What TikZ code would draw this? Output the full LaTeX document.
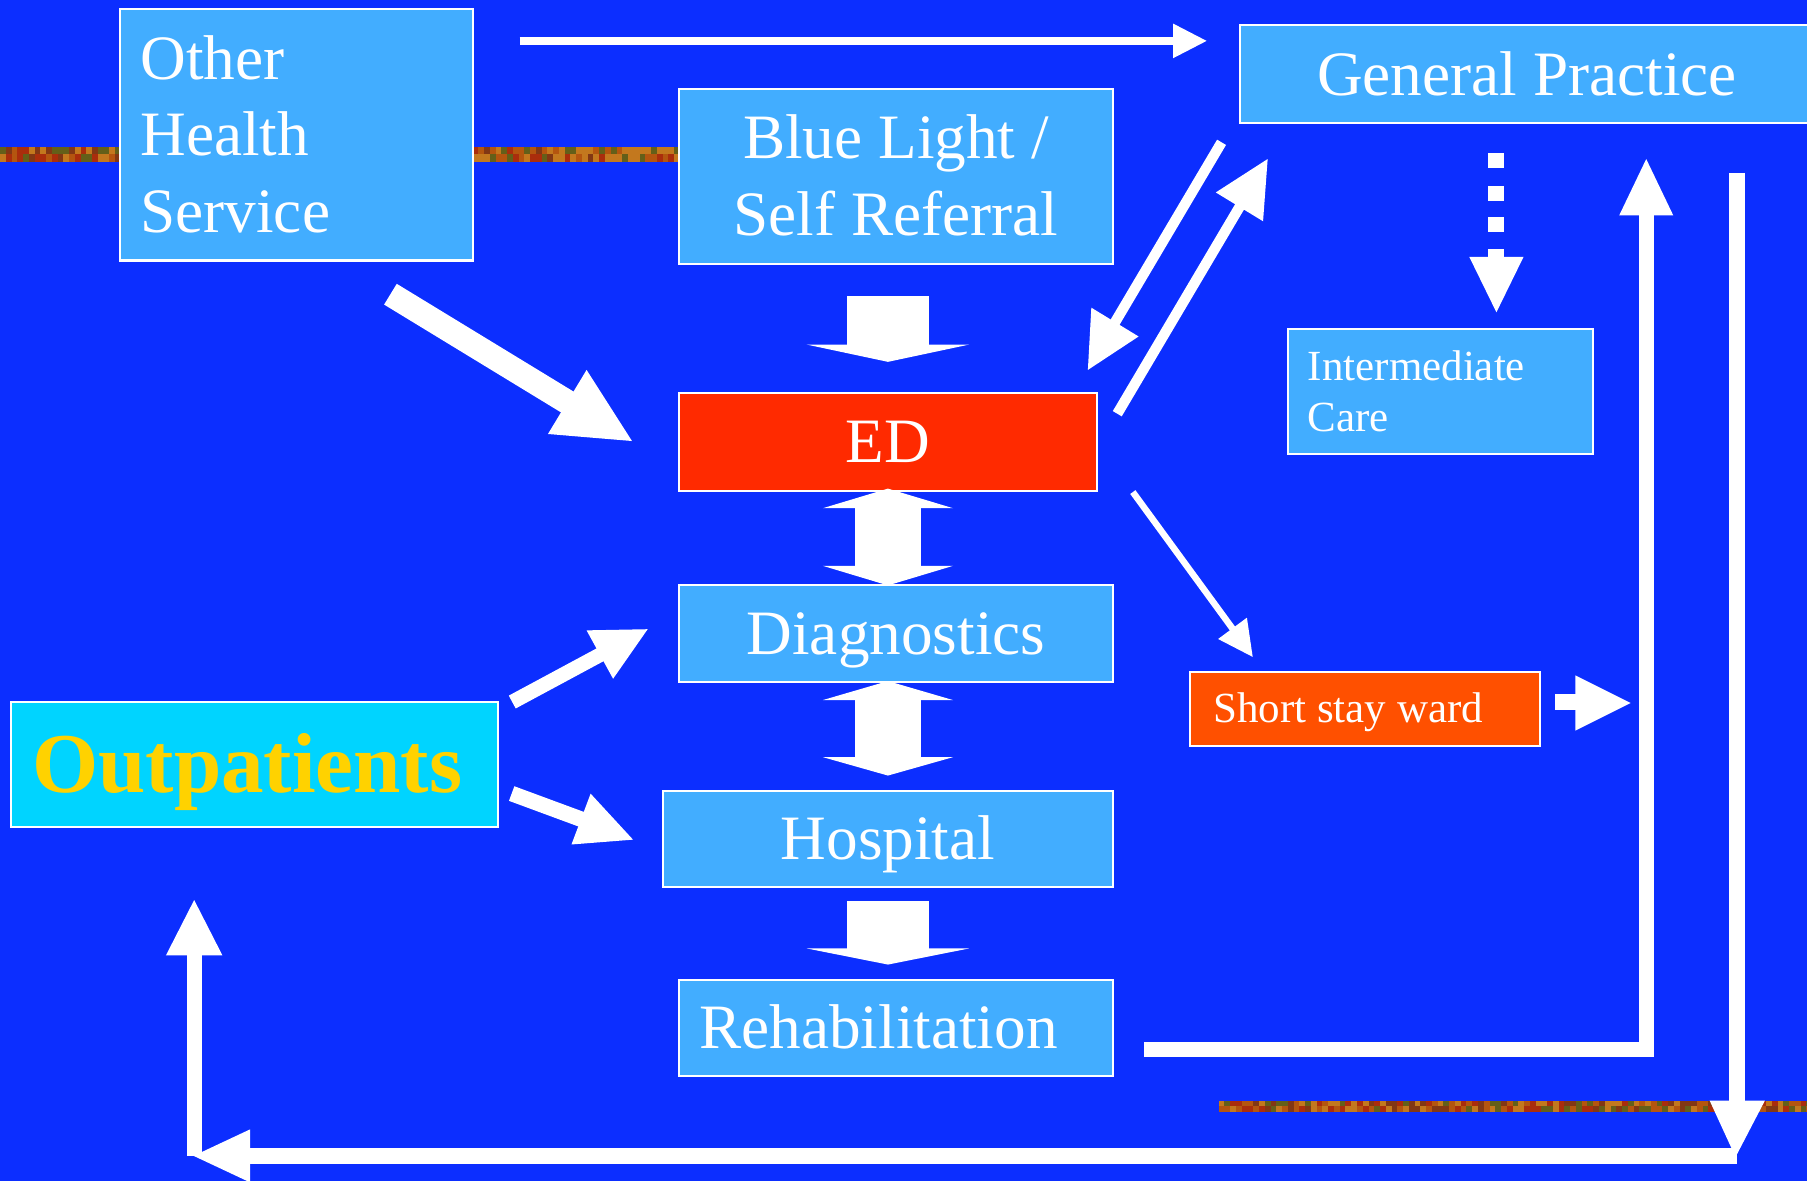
\documentclass[tikz,border=0pt]{standalone}
\usepackage{fontspec}
\setmainfont{Liberation Serif}
\usetikzlibrary{calc}
\definecolor{bgblue}{RGB}{12,46,255}
\definecolor{boxblue}{RGB}{66,173,255}
\definecolor{edred}{RGB}{255,42,0}
\definecolor{ssorange}{RGB}{255,80,0}
\definecolor{opcyan}{RGB}{0,212,255}
\definecolor{opgold}{RGB}{255,210,0}
\definecolor{band1}{RGB}{180,85,15}
\definecolor{band2}{RGB}{130,55,20}
\definecolor{band3}{RGB}{100,95,25}
\definecolor{band4}{RGB}{170,45,12}
\definecolor{band5}{RGB}{195,120,30}
\newcommand{\bigtxt}{\fontsize{15.6pt}{18.9pt}\selectfont}
\newcommand{\smalltxt}{\fontsize{10.6pt}{12.5pt}\selectfont}
\newcommand{\optxt}{\fontsize{21pt}{25pt}\selectfont\bfseries}
\begin{document}
\begin{tikzpicture}[x=0.01cm,y=-0.01cm,
  box/.style={draw=white,line width=0.5pt,fill=boxblue,inner ysep=0pt,outer sep=0pt,text=white},
  bigone/.style={box,font=\bigtxt,text height=10.33pt,text depth=0pt},
  smallbox/.style={box,font=\smalltxt,text height=7.02pt},
  shaft/.style={draw=white,line cap=butt,line join=miter},
  headfill/.style={fill=white}
]
\useasboundingbox (0,0) rectangle (1568,1025);
\clip (0,0) rectangle (1568,1025);
\fill[bgblue] (0,0) rectangle (1568,1025);

% textured bands
\pgfmathsetseed{42}
\foreach \i in {0,...,117} {
  \pgfmathrandominteger{\rc}{1}{5}
  \fill[band\rc] ({\i*5},128) rectangle ++(5,6);
  \pgfmathrandominteger{\rc}{1}{5}
  \fill[band\rc] ({\i*5},134) rectangle ++(5,6.5);
}
\foreach \i in {0,...,102} {
  \pgfmathrandominteger{\rc}{1}{5}
  \fill[band\rc] ({1057.5+\i*5},955) rectangle ++(5,4.8);
  \pgfmathrandominteger{\rc}{1}{5}
  \fill[band\rc] ({1057.5+\i*5},959.8) rectangle ++(5,4.8);
}

% boxes
\node[box,font=\bigtxt,text width=2.70cm,inner xsep=0.18cm,minimum height=2.18cm,
      align=flush left,text height=10.33pt,text depth=37.8pt] (ohs) at (257,117) {Other\\Health\\Service};
\node[box,font=\bigtxt,text width=3.41cm,inner xsep=0.18cm,minimum height=1.52cm,
      align=flush center,text height=10.33pt,text depth=18.9pt] (blsr) at (777.5,153) {Blue Light /\\Self Referral};
\node[bigone,minimum width=4.98cm,minimum height=0.85cm] (gp) at (1325,64.5) {General Practice};
\node[bigone,fill=edred,minimum width=3.63cm,minimum height=0.85cm] (ed) at (770.5,383.5) {ED};
\node[bigone,minimum width=3.77cm,minimum height=0.84cm] (diag) at (777.5,550) {Diagnostics};
\node[bigone,minimum width=3.91cm,minimum height=0.84cm] (hosp) at (770.5,728) {Hospital};
\node[bigone,text width=3.41cm,inner xsep=0.18cm,align=flush left,minimum height=0.84cm] (rehab) at (777.5,892) {Rehabilitation};
\node[smallbox,text width=2.30cm,inner xsep=0.17cm,align=flush left,minimum height=1.085cm,
      text depth=12.5pt] (ic) at (1250,339.75) {Intermediate\\Care};
\node[smallbox,fill=ssorange,text width=2.63cm,inner xsep=0.20cm,align=flush left,minimum height=0.64cm,
      text depth=0pt] (ssw) at (1184.5,615) {Short stay ward};
\node[box,fill=opcyan,text=opgold,font=\optxt,text width=3.86cm,inner xsep=0.18cm,align=flush left,
      minimum height=1.09cm,text height=13.9pt,text depth=0pt] (op) at (221,663.5) {Outpatients};

% Other Health Service -> General Practice
\coordinate (a1s) at (451,35.5); \coordinate (a1e) at (1020,35.5);
\draw[shaft,line width=2pt] (a1s) -- (a1e);
\fill[headfill] (1018,20.5) -- (1047,35.5) -- (1018,50.5) -- cycle;

% Other Health Service -> ED
\coordinate (a2s) at (338.8,255.3); \coordinate (a2e) at (495,350.5);
\draw[shaft,line width=6pt] (a2s) -- (a2e);
\fill[headfill] (509,321) -- (548.4,382.7) -- (475.5,376.6) -- cycle;

% Blue Light -> ED (block arrow)
\fill[headfill] (735,257) -- (806,257) -- (806,299) -- (841,299) -- (770.5,314)
  -- (700,299) -- (735,299) -- cycle;

% ED <-> Diagnostics
\fill[headfill] (770.5,424) -- (827,441) -- (799,441) -- (799,491) -- (827,491) -- (770.5,508)
  -- (714,491) -- (742,491) -- (742,441) -- (714,441) -- cycle;

% Diagnostics <-> Hospital
\fill[headfill] (770.5,591) -- (827,607.5) -- (799,607.5) -- (799,657) -- (827,657) -- (770.5,673)
  -- (714,657) -- (742,657) -- (742,607.5) -- (714,607.5) -- cycle;

% Hospital -> Rehabilitation
\fill[headfill] (735,782) -- (806,782) -- (806,823) -- (841,823) -- (770.5,837)
  -- (700,823) -- (735,823) -- cycle;

% General Practice -> ED
\coordinate (a3s) at (1060,123.5); \coordinate (a3e) at (965,284);
\draw[shaft,line width=2.56pt] (a3s) -- (a3e);
\fill[headfill] (947,267) -- (944,321) -- (988,292) -- cycle;

% ED -> General Practice
\coordinate (a4s) at (969.5,359); \coordinate (a4e) at (1078,175.5);
\draw[shaft,line width=2.56pt] (a4s) -- (a4e);
\fill[headfill] (1055,167) -- (1100,138) -- (1096,192) -- cycle;

% General Practice -> Intermediate Care (dotted)
\foreach \ya/\yb in {133/146,161/174,188/201,216/224} {
  \fill[white] (1291.5,\ya) rectangle (1305.5,\yb);
}
\fill[headfill] (1275,223) -- (1322,223) -- (1298.5,271) -- cycle;

% ED -> Short stay ward
\coordinate (a5s) at (983,427); \coordinate (a5e) at (1071,547.5);
\draw[shaft,line width=1.6pt] (a5s) -- (a5e);
\fill[headfill] (1057,554.5) -- (1087,570) -- (1082,536) -- cycle;

% Short stay ward -> right
\fill[white] (1349,602) rectangle (1368,616);
\fill[headfill] (1367,586) -- (1415,610) -- (1367,634) -- cycle;

% Rehabilitation -> General Practice
\coordinate (a6s) at (993,910.5); \coordinate (a6c) at (1428.5,910.5); \coordinate (a6e) at (1428.5,182);
\draw[shaft,line width=3.8pt] (a6s) -- (a6c) -- (a6e);
\fill[headfill] (1405,187) -- (1428.5,138) -- (1452,187) -- cycle;

% General Practice -> down right side
\coordinate (a7s) at (1507,150); \coordinate (a7e) at (1507,958);
\draw[shaft,line width=3.9pt] (a7s) -- (a7e);
\fill[headfill] (1483.5,955) -- (1506,1004) -- (1531.5,955) -- cycle;

% bottom line -> Outpatients
\coordinate (a8s) at (1507,1003); \coordinate (a8e) at (214,1003);
\draw[shaft,line width=3.9pt] (a8s) -- (a8e);
\fill[headfill] (217,980) -- (168,1003) -- (217,1026) -- cycle;
\coordinate (a9s) at (168.5,1003); \coordinate (a9e) at (168.5,826);
\draw[shaft,line width=3.7pt] (a9s) -- (a9e);
\fill[headfill] (144,829) -- (168.5,781) -- (193,829) -- cycle;

% Outpatients -> Diagnostics
\coordinate (a10s) at (444.5,609.2); \coordinate (a10e) at (522,567.5);
\draw[shaft,line width=3.6pt] (a10s) -- (a10e);
\fill[headfill] (509,547) -- (562,546) -- (532,589) -- cycle;

% Outpatients -> Hospital
\coordinate (a11s) at (444,688.6); \coordinate (a11e) at (506,711.5);
\draw[shaft,line width=3.84pt] (a11s) -- (a11e);
\fill[headfill] (512.5,688.7) -- (549.3,728.6) -- (495.9,732.8) -- cycle;
\end{tikzpicture}
\end{document}
